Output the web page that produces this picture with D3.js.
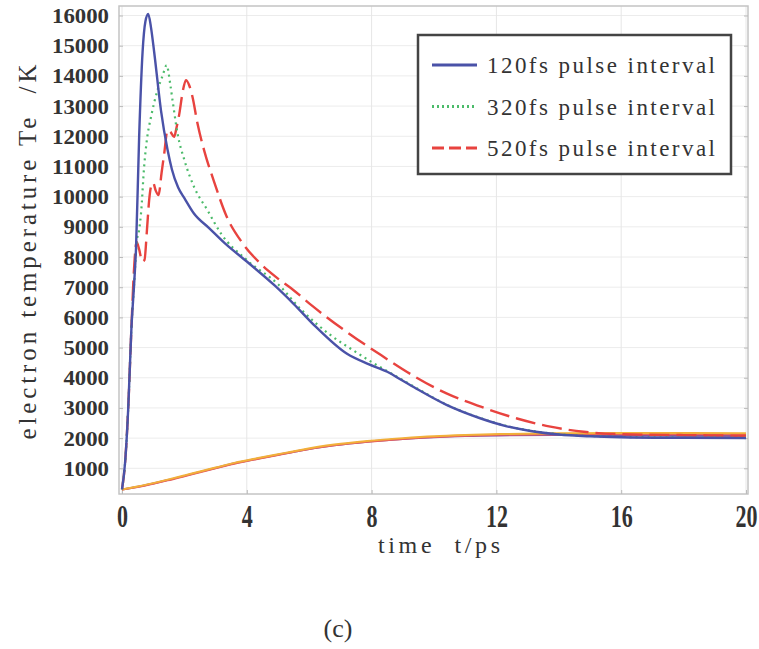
<!DOCTYPE html>
<html>
<head>
<meta charset="utf-8">
<script src="https://cdn.jsdelivr.net/npm/d3@7"></script>
<style>
  body { margin: 0; background: #fff; }
  text { font-family: "Liberation Serif", "DejaVu Serif", serif; fill: #333; }
</style>
</head>
<body>
<div id="chart"></div>
<script>
// svg definitions
let svgWidth = 759;
let svgHeight = 649;

// electron temperature, 120fs pulse interval
let t120 = [0, 0.1, 0.2, 0.3, 0.4, 0.45, 0.55, 0.66, 0.75, 0.84, 0.93, 1.03, 1.25, 1.46, 1.6, 1.8, 2.0, 2.3, 2.8, 3.3, 4.0, 4.9, 5.5, 6.2, 7.2, 7.9, 8.5, 9.0, 9.5, 10.4, 11.5, 12.3, 13.2, 14.0, 15, 16, 18, 20];
let te120 = [300, 1200, 3000, 5600, 7300, 8300, 12000, 14800, 15800, 16050, 15600, 14800, 12850, 11550, 10900, 10300, 9950, 9450, 8950, 8450, 7850, 7050, 6450, 5700, 4800, 4450, 4200, 3900, 3600, 3100, 2650, 2400, 2220, 2120, 2060, 2030, 2010, 2000];

// electron temperature, 320fs pulse interval
let t320 = [0, 0.1, 0.2, 0.3, 0.4, 0.47, 0.55, 0.61, 0.71, 0.8, 0.93, 1.14, 1.3, 1.43, 1.55, 1.62, 1.78, 2.0, 2.31, 2.74, 3.17, 4.0, 5.0, 5.75, 6.7, 7.5, 8.0, 8.5, 9.0, 9.5, 10.4, 11.5, 12.3, 13.2, 14.0, 15, 16, 18, 20];
let te320 = [300, 1200, 3000, 5600, 7300, 8500, 8900, 9450, 11000, 11900, 12640, 13530, 14000, 14350, 13700, 13190, 12090, 11210, 10320, 9550, 8780, 7900, 7100, 6250, 5400, 4850, 4520, 4220, 3920, 3620, 3110, 2660, 2410, 2230, 2130, 2070, 2040, 2020, 2010];

// electron temperature, 520fs pulse interval
let t520 = [0, 0.1, 0.2, 0.3, 0.38, 0.47, 0.55, 0.65, 0.72, 0.8, 0.87, 0.95, 1.0, 1.08, 1.17, 1.27, 1.35, 1.46, 1.55, 1.67, 1.75, 1.83, 1.95, 2.05, 2.15, 2.26, 2.42, 2.63, 2.95, 3.33, 3.87, 4.4, 4.93, 5.5, 6.1, 7.2, 8.3, 9.35, 10.4, 11.5, 12.66, 13.73, 14.8, 16, 18, 20];
let te520 = [300, 1200, 3000, 5600, 7500, 8500, 8250, 7850, 7900, 8900, 9880, 10400, 10450, 10200, 10050, 10800, 11400, 12200, 12150, 11980, 12300, 12700, 13500, 13860, 13700, 13300, 12420, 11540, 10500, 9400, 8450, 7820, 7340, 6900, 6380, 5520, 4750, 4060, 3480, 3040, 2650, 2380, 2210, 2130, 2100, 2080];

// lattice temperature (lower curves)
let tLat = [0, 0.5, 1.0, 1.46, 2.0, 2.53, 3.0, 3.6, 4.45, 5.0, 5.73, 6.8, 7.86, 9.0, 10, 11, 12.1, 14, 16, 18, 20];
let tlA = [300, 390, 500, 610, 750, 890, 1010, 1165, 1340, 1450, 1590, 1760, 1880, 1970, 2030, 2070, 2090, 2100, 2090, 2080, 2070];
let tlB = [300, 380, 490, 600, 740, 880, 1000, 1150, 1330, 1440, 1590, 1760, 1880, 1975, 2040, 2080, 2110, 2130, 2135, 2130, 2125];
let tlC = [300, 395, 510, 625, 765, 905, 1025, 1180, 1355, 1465, 1610, 1785, 1905, 2000, 2065, 2105, 2135, 2160, 2170, 2170, 2165];

// axis ticks and legend
let xTicks = [0, 4, 8, 12, 16, 20];
let yTicks = [1000, 2000, 3000, 4000, 5000, 6000, 7000, 8000, 9000, 10000, 11000, 12000, 13000, 14000, 15000, 16000];
let legendLabels = ['120fs pulse interval', '320fs pulse interval', '520fs pulse interval'];

// plot box in svg
let plot = { left: 119, right: 748, top: 6, bottom: 494 };

let svg = d3.select('#chart')
  .append('svg')
  .attr('width', svgWidth)
  .attr('height', svgHeight);

// linear scales
let xLin = d3.scaleLinear().domain([0, 20]).range([122, 746]);
let yLin = d3.scaleLinear().domain([149, 16315]).range([plot.bottom, plot.top]);

// grid lines
svg.append('g')
  .selectAll('line')
  .data(yTicks)
  .enter()
  .append('line')
  .attr('x1', plot.left)
  .attr('x2', plot.right)
  .attr('y1', d => yLin(d))
  .attr('y2', d => yLin(d))
  .attr('stroke', '#ececec')
  .attr('stroke-width', 1);

svg.append('g')
  .selectAll('line')
  .data(xTicks)
  .enter()
  .append('line')
  .attr('x1', d => xLin(d))
  .attr('x2', d => xLin(d))
  .attr('y1', plot.top)
  .attr('y2', plot.bottom)
  .attr('stroke', '#e6e6e6')
  .attr('stroke-width', 1);

// frame
svg.append('rect')
  .attr('x', plot.left)
  .attr('y', plot.top)
  .attr('width', plot.right - plot.left)
  .attr('height', plot.bottom - plot.top)
  .attr('fill', 'none')
  .attr('stroke', '#c4c4c4')
  .attr('stroke-width', 1.5);

// left / right axes with inner ticks
let leftAxis = d3.axisLeft(yLin).tickValues(yTicks).tickSize(-4).tickPadding(10).tickFormat(d3.format('d'));
let yAxis = svg.append('g')
  .attr('transform', `translate(${plot.left}, 0)`)
  .call(leftAxis);
yAxis.select('.domain').remove();
yAxis.selectAll('line').attr('stroke', '#bbb');
yAxis.selectAll('text')
  .attr('font-size', '22px')
  .attr('font-family', '"Liberation Serif", serif')
  .attr('font-weight', 'bold')
  .attr('fill', '#555')
  .attr('textLength', d => String(d).length * 11.4)
  .attr('lengthAdjust', 'spacingAndGlyphs');

let rightAxis = d3.axisRight(yLin).tickValues(yTicks).tickSize(-4).tickFormat('');
svg.append('g')
  .attr('transform', `translate(${plot.right}, 0)`)
  .call(rightAxis)
  .call(g => g.select('.domain').remove())
  .selectAll('line').attr('stroke', '#bbb');

// bottom axis
let bottomAxis = d3.axisBottom(xLin).tickValues(xTicks).tickSize(-4).tickPadding(0);
let xAxis = svg.append('g')
  .attr('transform', `translate(0, ${plot.bottom})`)
  .call(bottomAxis);
xAxis.select('.domain').remove();
xAxis.selectAll('line').attr('stroke', '#bbb');
xAxis.selectAll('text')
  .attr('font-size', '22px')
  .attr('font-family', '"Liberation Serif", serif')
  .attr('font-weight', 'bold')
  .attr('fill', '#555')
  .attr('dy', 0)
  .attr('y', 0)
  .attr('transform', 'translate(0, 33) scale(1, 1.4)');

// line generator
function makeLine(ts) {
  return d3.line()
    .x((d, i) => xLin(ts[i]))
    .y(d => yLin(d))
    .curve(d3.curveMonotoneX);
}

// lattice curves
let latticeSeries = [
  { vals: tlA, color: '#8a4f9e' },
  { vals: tlB, color: '#e8625a' },
  { vals: tlC, color: '#f2b03a' }
];
latticeSeries.forEach(function(s) {
  svg.append('path')
    .datum(s.vals)
    .attr('d', makeLine(tLat))
    .attr('fill', 'none')
    .attr('stroke', s.color)
    .attr('stroke-width', 2);
});

// electron curves
let electronSeries = [
  { ts: t520, vals: te520, color: '#e8433f', dash: '20,7', width: 2.4 },
  { ts: t320, vals: te320, color: '#4cbb6a', dash: '2,4', width: 2.2 },
  { ts: t120, vals: te120, color: '#4a52a8', dash: null, width: 2.4 }
];
electronSeries.forEach(function(s) {
  svg.append('path')
    .datum(s.vals)
    .attr('d', makeLine(s.ts))
    .attr('fill', 'none')
    .attr('stroke', s.color)
    .attr('stroke-width', s.width)
    .attr('stroke-dasharray', s.dash);
});

// legend
let legend = svg.append('g');
legend.append('rect')
  .attr('x', 418)
  .attr('y', 35)
  .attr('width', 313)
  .attr('height', 139)
  .attr('fill', '#fff')
  .attr('stroke', '#444')
  .attr('stroke-width', 2.5);

let legendStyle = [
  { color: '#4a52a8', dash: null },
  { color: '#4cbb6a', dash: '2,3' },
  { color: '#e8433f', dash: '12,5' }
];
legendLabels.forEach(function(label, i) {
  let y = 65 + i * 41.5;
  legend.append('line')
    .attr('x1', 432)
    .attr('x2', 477)
    .attr('y1', y)
    .attr('y2', y)
    .attr('stroke', legendStyle[i].color)
    .attr('stroke-width', 3)
    .attr('stroke-dasharray', legendStyle[i].dash);
  legend.append('text')
    .attr('x', 487)
    .attr('y', y + 8)
    .attr('font-size', '23px')
    .attr('fill', '#3a3a3a')
    .attr('textLength', 228)
    .attr('lengthAdjust', 'spacing')
    .text(label);
});

// axis titles
svg.append('text')
  .attr('transform', 'translate(36, 252) rotate(-90)')
  .attr('text-anchor', 'middle')
  .attr('font-size', '25px')
  .attr('fill', '#3a3a3a')
  .attr('textLength', 375)
  .attr('lengthAdjust', 'spacing')
  .style('white-space', 'pre')
  .text('electron temperature Te  /K');

svg.append('text')
  .attr('x', 378)
  .attr('y', 553)
  .attr('font-size', '24px')
  .attr('fill', '#3a3a3a')
  .attr('textLength', 122)
  .attr('lengthAdjust', 'spacing')
  .style('white-space', 'pre')
  .text('time  t/ps');

// caption
svg.append('text')
  .attr('x', 338)
  .attr('y', 637)
  .attr('text-anchor', 'middle')
  .attr('font-size', '26px')
  .attr('fill', '#111')
  .text('(c)');
</script>
</body>
</html>
